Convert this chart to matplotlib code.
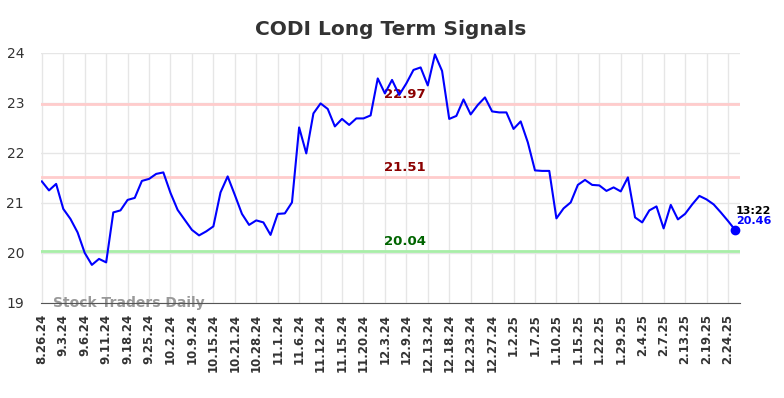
import matplotlib
matplotlib.use('Agg')
import matplotlib.pyplot as plt

# closing values, one per point
prices = [21.43, 21.25, 21.38, 20.88, 20.68, 20.41, 20.0, 19.76, 19.88, 19.81,
          20.81, 20.85, 21.06, 21.10, 21.44, 21.48, 21.58, 21.61, 21.20, 20.86,
          20.66, 20.46, 20.35, 20.43, 20.53, 21.21, 21.53, 21.16, 20.78, 20.56,
          20.65, 20.61, 20.36, 20.78, 20.79, 21.01, 22.51, 21.99, 22.79, 22.99,
          22.88, 22.53, 22.68, 22.56, 22.69, 22.69, 22.75, 23.49, 23.19, 23.46,
          23.16, 23.39, 23.66, 23.71, 23.35, 23.97, 23.64, 22.68, 22.74, 23.07,
          22.77, 22.96, 23.11, 22.83, 22.81, 22.81, 22.48, 22.63, 22.21, 21.65,
          21.64, 21.64, 20.69, 20.89, 21.01, 21.36, 21.46, 21.36, 21.35, 21.24,
          21.31, 21.23, 21.51, 20.71, 20.61, 20.85, 20.93, 20.49, 20.96, 20.67,
          20.78, 20.97, 21.14, 21.07, 20.97, 20.81, 20.64, 20.46]

tick_labels = ['8.26.24', '9.3.24', '9.6.24', '9.11.24', '9.18.24', '9.25.24',
               '10.2.24', '10.9.24', '10.15.24', '10.21.24', '10.28.24', '11.1.24',
               '11.6.24', '11.12.24', '11.15.24', '11.20.24', '12.3.24', '12.9.24',
               '12.13.24', '12.18.24', '12.23.24', '12.27.24', '1.2.25', '1.7.25',
               '1.10.25', '1.15.25', '1.22.25', '1.29.25', '2.4.25', '2.7.25',
               '2.13.25', '2.19.25', '2.24.25']

signal_levels = [22.97, 21.51, 20.04]
line_colors = ['#ffcccc', '#ffcccc', '#a8eea8']
text_colors = ['#8b0000', '#8b0000', '#006400']
last_time = '13:22'

fig = plt.figure(figsize=(7.84, 3.98), dpi=100)
ax = fig.add_axes([0.052, 0.239, 0.892, 0.628])

x = list(range(len(prices)))
ticks = x[::3][:len(tick_labels)]

ax.grid(True, color='#e6e6e6', linewidth=1)
ax.set_axisbelow(True)

for lvl, lc, tc in zip(signal_levels, line_colors, text_colors):
    ax.axhline(lvl, color=lc, linewidth=2, zorder=1)
    ax.text(50.8, lvl + 0.06, '%.2f' % lvl, color=tc, fontsize=9.5,
            fontweight='bold', ha='center', va='bottom', zorder=3)

ax.plot(x, prices, color='#0000ff', linewidth=1.5, zorder=4)
ax.plot(x[-1], prices[-1], 'o', color='#0000ff', markersize=6, zorder=5)

ax.text(x[-1] + 0.1, prices[-1] + 0.28, last_time, fontsize=8, fontweight='bold',
        color='black', ha='left', va='bottom', clip_on=False)
ax.text(x[-1] + 0.1, prices[-1] + 0.08, '%.2f' % prices[-1], fontsize=8,
        fontweight='bold', color='#0000ff', ha='left', va='bottom', clip_on=False)

ax.text(1.6, 19.0, 'Stock Traders Daily', fontsize=10, fontweight='bold',
        color='#999999', ha='left', va='center', zorder=2)

ax.set_xlim(-0.15, 97.7)
ax.set_ylim(19, 24)
ax.set_yticks([19, 20, 21, 22, 23, 24])
ax.set_xticks(ticks)
ax.set_xticklabels(tick_labels, rotation=90, fontsize=8.5, fontweight='bold')
ax.tick_params(axis='both', length=0, colors='#333333')
ax.tick_params(axis='y', labelsize=10, pad=12)
ax.tick_params(axis='x', pad=8)

for s in ['top', 'right', 'left']:
    ax.spines[s].set_visible(False)
ax.spines['bottom'].set_color('#555555')

ax.set_title('CODI Long Term Signals', fontsize=14.5, fontweight='bold',
             color='#333333', pad=13)

fig.savefig('out.png', dpi=100)
